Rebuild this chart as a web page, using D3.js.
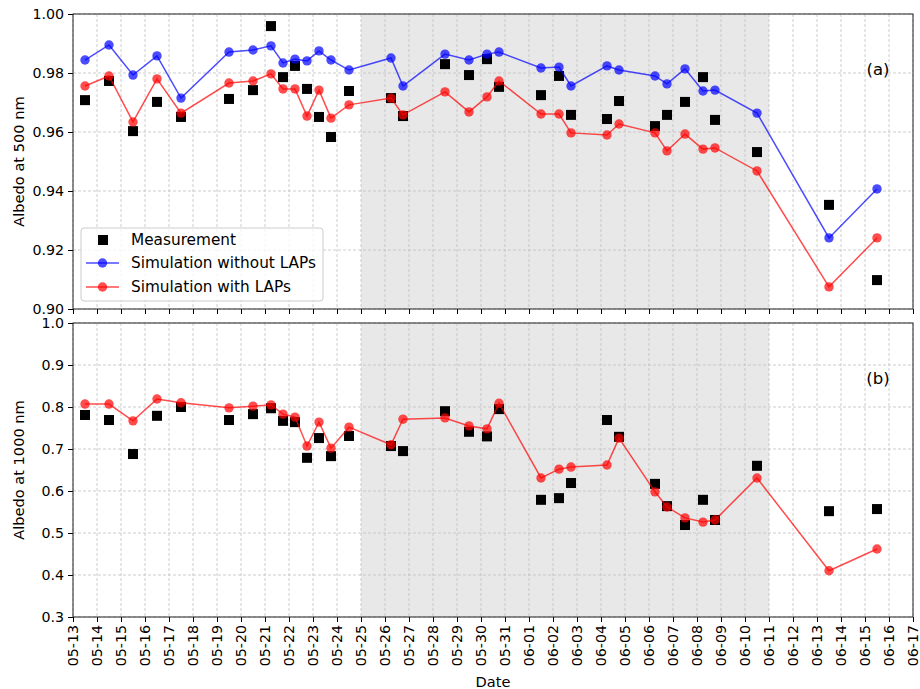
<!DOCTYPE html>
<html><head><meta charset="utf-8">
<script src="https://cdn.jsdelivr.net/npm/d3@7"></script>
<style>body{margin:0;background:#fff;} svg{display:block;font-family:"DejaVu Sans",sans-serif;}</style>
</head><body><svg id="c" width="920" height="689"></svg>
<script>
const dates = ["05-13 12:00","05-14 12:00","05-15 12:00","05-16 12:00","05-17 12:00","05-19 12:00","05-20 12:00",
 "05-21 06:00","05-21 18:00","05-22 06:00","05-22 18:00","05-23 06:00","05-23 18:00","05-24 12:00",
 "05-26 06:00","05-26 18:00","05-28 12:00","05-29 12:00","05-30 06:00","05-30 18:00","06-01 12:00",
 "06-02 06:00","06-02 18:00","06-04 06:00","06-04 18:00","06-06 06:00","06-06 18:00","06-07 12:00",
 "06-08 06:00","06-08 18:00","06-10 12:00","06-13 12:00","06-15 12:00"];
const a500Meas = [0.9708,0.9773,0.9603,0.9702,0.9651,0.9712,0.9742,0.9959,0.9786,0.9824,0.9746,0.9651,0.9583,0.9739,0.9715,0.9654,0.983,0.9793,0.9847,0.9753,0.9725,0.979,0.9658,0.9644,0.9705,0.962,0.9658,0.9702,0.9786,0.9641,0.9532,0.9353,0.9098];
const a500NoLAP = [0.9844,0.9895,0.9793,0.9858,0.9715,0.9871,0.9878,0.9892,0.9834,0.9847,0.9841,0.9875,0.9844,0.981,0.9851,0.9756,0.9864,0.9844,0.9864,0.9871,0.9817,0.982,0.9756,0.9824,0.981,0.979,0.9763,0.9814,0.9739,0.9742,0.9664,0.9241,0.9407];
const a500LAP = [0.9756,0.979,0.9634,0.978,0.9664,0.9766,0.9773,0.9797,0.9746,0.9746,0.9654,0.9742,0.9647,0.9692,0.9715,0.9658,0.9736,0.9668,0.9719,0.9773,0.9661,0.9661,0.9597,0.959,0.9627,0.9597,0.9536,0.9593,0.9542,0.9546,0.9468,0.9075,0.9241];
const a1000Meas = [0.781,0.769,0.688,0.779,0.800,0.769,0.783,0.797,0.767,0.764,0.679,0.726,0.683,0.731,0.707,0.695,0.790,0.741,0.730,0.795,0.579,0.583,0.619,0.769,0.729,0.617,0.564,0.519,0.579,0.531,0.660,0.552,0.557];
const a1000LAP = [0.807,0.807,0.767,0.819,0.810,0.798,0.802,0.805,0.783,0.776,0.707,0.764,0.702,0.752,0.710,0.771,0.774,0.755,0.748,0.809,0.631,0.652,0.657,0.662,0.726,0.598,0.562,0.536,0.526,0.531,0.631,0.410,0.462];
const xDomain = ["05-13 00:00","06-17 00:00"];
const shadeSpan = ["05-25 00:00","06-11 00:00"];
const yTicksA = [0.90,0.92,0.94,0.96,0.98,1.00];
const yTicksB = [0.3,0.4,0.5,0.6,0.7,0.8,0.9,1.0];
const legendLabels = ["Measurement","Simulation without LAPs","Simulation with LAPs"];

const parse = d3.timeParse("%m-%d %H:%M");
const fmt = d3.timeFormat("%m-%d");
const svg = d3.select("#c");
const L=73, R=913;
const x = d3.scaleTime().domain(xDomain.map(parse)).range([L,R]);
const xTicks = d3.timeDay.range(parse(xDomain[0]), d3.timeDay.offset(parse(xDomain[1]),1));
const FS = 14.2, FL = 14.6, FLEG = 15.3;

function panel(top, bottom, yDomain, yTicks, yFmt, yLabel, tag, series, showXLabels){
  const y = d3.scaleLinear().domain(yDomain).range([bottom, top]);
  const g = svg.append("g");
  g.append("rect").attr("x",L).attr("y",top).attr("width",R-L).attr("height",bottom-top).attr("fill","#fff");
  g.append("rect").attr("x",x(parse(shadeSpan[0]))).attr("y",top)
    .attr("width",x(parse(shadeSpan[1]))-x(parse(shadeSpan[0]))).attr("height",bottom-top).attr("fill","#e8e8e8");
  g.append("g").selectAll("line").data(xTicks).join("line")
    .attr("x1",d=>x(d)).attr("x2",d=>x(d)).attr("y1",top).attr("y2",bottom)
    .attr("stroke","#c0c0c0").attr("stroke-width",0.8).attr("stroke-dasharray","3,2");
  g.append("g").selectAll("line").data(yTicks).join("line")
    .attr("x1",L).attr("x2",R).attr("y1",d=>y(d)).attr("y2",d=>y(d))
    .attr("stroke","#c0c0c0").attr("stroke-width",0.8).attr("stroke-dasharray","3,2");
  const ya = g.append("g").attr("transform",`translate(${L},0)`)
    .call(d3.axisLeft(y).tickValues(yTicks).tickFormat(yFmt).tickSize(5).tickPadding(4));
  ya.select(".domain").remove();
  ya.selectAll("text").attr("font-size",FS).attr("fill","#000").attr("font-family","DejaVu Sans");
  ya.selectAll("line").attr("stroke","#000");
  const xa = g.append("g").attr("transform",`translate(0,${bottom})`)
    .call(d3.axisBottom(x).tickValues(xTicks).tickFormat(showXLabels?fmt:"").tickSize(5));
  xa.select(".domain").remove();
  xa.selectAll("line").attr("stroke","#000");
  xa.selectAll("text").attr("font-size",FS).attr("fill","#000").attr("font-family","DejaVu Sans")
    .attr("transform","rotate(-90)").attr("text-anchor","end").attr("x",-8).attr("y",0).attr("dy","0.35em");
  g.append("rect").attr("x",L).attr("y",top).attr("width",R-L).attr("height",bottom-top)
    .attr("fill","none").attr("stroke","#222").attr("stroke-width",1);
  g.append("text").attr("transform",`translate(19,${(top+bottom)/2}) rotate(-90)`)
    .attr("text-anchor","middle").attr("dy","0.35em").attr("font-size",FL).text(yLabel);
  g.append("text").attr("x",878).attr("y",top+55).attr("text-anchor","middle").attr("dy","0.35em")
    .attr("font-size",16.5).text(tag);
  const clipId = "clip"+tag.replace(/\W/g,"");
  svg.append("clipPath").attr("id",clipId).append("rect").attr("x",L).attr("y",top).attr("width",R-L).attr("height",bottom-top);
  const dg = g.append("g").attr("clip-path",`url(#${clipId})`);
  series.forEach(s=>{
    const pts = dates.map((d,i)=>[x(parse(d)), y(s.values[i])]);
    if(s.type==="square"){
      dg.append("g").selectAll("rect").data(pts).join("rect")
        .attr("x",p=>p[0]-5).attr("y",p=>p[1]-5).attr("width",10).attr("height",10).attr("fill","#000");
    } else {
      dg.append("path").attr("d",d3.line()(pts)).attr("fill","none").attr("stroke",s.color)
        .attr("stroke-opacity",0.7).attr("stroke-width",1.5);
      dg.append("g").selectAll("circle").data(pts).join("circle")
        .attr("cx",p=>p[0]).attr("cy",p=>p[1]).attr("r",4.7).attr("fill",s.color).attr("fill-opacity",0.7);
    }
  });
  return g;
}

panel(14, 309, [0.90,1.00], yTicksA, d3.format(".2f"), "Albedo at 500 nm", "(a)", [
  {type:"square", values:a500Meas},
  {type:"line", color:"blue", values:a500NoLAP},
  {type:"line", color:"red", values:a500LAP}], false);
panel(323, 617, [0.3,1.0], yTicksB, d3.format(".1f"), "Albedo at 1000 nm", "(b)", [
  {type:"square", values:a1000Meas},
  {type:"line", color:"red", values:a1000LAP}], true);

svg.append("text").attr("x",(L+R)/2).attr("y",687).attr("text-anchor","middle").attr("font-size",FL).text("Date");

const lg = svg.append("g");
lg.append("rect").attr("x",81).attr("y",228).attr("width",242).attr("height",73).attr("rx",3)
  .attr("fill","#fff").attr("fill-opacity",0.8).attr("stroke","#ccc");
const legY = [240,263,287];
lg.append("rect").attr("x",98).attr("y",legY[0]-5).attr("width",10).attr("height",10).attr("fill","#000");
[["blue",1],["red",2]].forEach(([c,i])=>{
  lg.append("line").attr("x1",86).attr("x2",119).attr("y1",legY[i]).attr("y2",legY[i])
    .attr("stroke",c).attr("stroke-opacity",0.7).attr("stroke-width",1.5);
  lg.append("circle").attr("cx",102.5).attr("cy",legY[i]).attr("r",4.7).attr("fill",c).attr("fill-opacity",0.7);
});
legendLabels.forEach((t,i)=>lg.append("text").attr("x",131).attr("y",legY[i]).attr("dy","0.35em")
  .attr("font-size",FLEG).text(t));
</script></body></html>
